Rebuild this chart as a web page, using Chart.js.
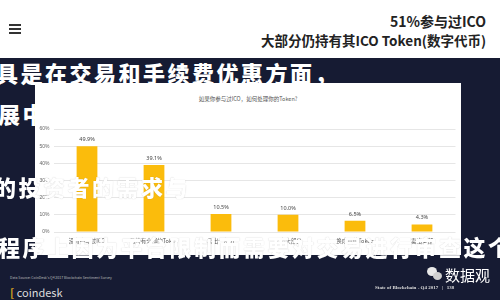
<!DOCTYPE html>
<html><head><meta charset="utf-8">
<script src="https://cdn.jsdelivr.net/npm/chart.js@4/dist/chart.umd.min.js"></script>
<style>
html,body{margin:0;padding:0;}
body{width:500px;height:300px;position:relative;overflow:hidden;background:#fff;font-family:"Noto Sans CJK SC","Noto Sans",sans-serif;}
#navy{position:absolute;left:0;top:58px;width:500px;height:242px;background:#161b33;}
#panel{position:absolute;left:35px;top:83px;width:426px;height:172px;background:#fff;}
#cv{position:absolute;left:0;top:0;}
.t{position:absolute;white-space:nowrap;}
.over{position:absolute;white-space:nowrap;color:#fff;font-weight:900;font-size:22px;letter-spacing:2.5px;font-family:"Noto Sans CJK SC";text-shadow:0 0 1px rgba(0,0,0,0.22);}
.ham{position:absolute;left:9px;width:12px;height:2px;background:#333;}
.bub{position:absolute;border-radius:50%;background:#e8e8e8;}
</style></head><body>
<div class="ham" style="top:24px"></div><div class="ham" style="top:28px"></div><div class="ham" style="top:32px"></div>
<div class="t" style="right:14px;top:11px;font-size:14px;font-weight:700;color:#222;">51%参与过ICO</div>
<div class="t" style="right:14px;top:30px;font-size:13.5px;font-weight:700;color:#222;">大部分仍持有其ICO Token(数字代币)</div>
<div id="navy"></div>
<div class="over" style="left:-4px;top:56px;">具是在交易和手续费优惠方面，</div>
<div class="over" style="left:-2px;top:97px;">展中的发展前景</div>
<div id="panel">
  <div class="t" style="left:0;width:426px;text-align:center;top:12px;font-size:5.5px;color:#555;">如果你参与过ICO，如何处理你的Token?</div>
  <canvas id="cv" width="426" height="172"></canvas>
</div>
<div class="over" style="left:-6px;top:170px;">的投资者的需求与</div>
<div class="over" style="left:-2px;top:230px;">程序上因为平台限制而需要对交易进行审查这个</div>
<div class="t" style="left:10px;top:275px;font-size:3.5px;color:#bbb;">Data Source: CoinDesk's Q4 2017 Blockchain Sentiment Survey</div>
<div class="t" style="left:10px;top:284px;font-size:11px;color:#ddd;"><span style="color:#d4a020;font-weight:700;">[</span> coindesk</div>
<div class="bub" style="left:427px;top:267px;width:10px;height:9px;"></div>
<div class="bub" style="left:433px;top:272px;width:9px;height:8px;background:#cfcfcf;"></div>
<div class="t" style="left:445px;top:264px;font-size:15px;color:#fff;">数据观</div>
<div class="t" style="left:375px;top:285px;font-size:5px;color:#ddd;font-family:'Liberation Serif';font-weight:700;">State of Blockchain - Q4 2017 &nbsp;&nbsp;| &nbsp;&nbsp;138</div>
<script>
const categories=["没有参与过ICO","仍持有全部的Token","卖出一部分","卖出大部分","换成其他Token","卖出全部"];
const values=[49.9,39.1,10.5,10.0,6.5,4.3];
const valueLabels=["49.9%","39.1%","10.5%","10.0%","6.5%","4.3%"];
const yTicks=[0,10,20,30,40,50,60];
const labelPlugin={id:'vl',afterDatasetsDraw(chart){
  const ctx=chart.ctx;const meta=chart.getDatasetMeta(0);
  ctx.save();ctx.font='5.5px "Noto Sans"';ctx.fillStyle='#444';ctx.textAlign='center';ctx.textBaseline='bottom';
  meta.data.forEach((b,i)=>ctx.fillText(valueLabels[i],b.x,b.y-4));
  ctx.restore();}};
new Chart(document.getElementById('cv'),{
  type:'bar',
  data:{labels:categories,datasets:[{data:values,backgroundColor:'#fbbc0c',barPercentage:0.31,categoryPercentage:1}]},
  options:{responsive:false,animation:false,
    layout:{padding:{left:0,right:5.5,top:46,bottom:0}},
    plugins:{legend:{display:false},tooltip:{enabled:false}},
    scales:{
      x:{grid:{display:false,drawTicks:false},border:{display:false},
         ticks:{font:{size:5.5,family:'"Noto Sans CJK SC"'},color:'#555',padding:6,maxRotation:0,autoSkip:false},
         afterFit(s){s.height=23;}},
      y:{min:0,max:60,grid:{color:'#e6e6e6',drawTicks:false},border:{display:false},
         afterBuildTicks(s){s.ticks=yTicks.map(v=>({value:v}));},
         ticks:{font:{size:5},color:'#666',padding:4,callback:v=>v+'%'},
         afterFit(s){s.width=18.5;}}
    }},
  plugins:[labelPlugin]
});
</script>
</body></html>
